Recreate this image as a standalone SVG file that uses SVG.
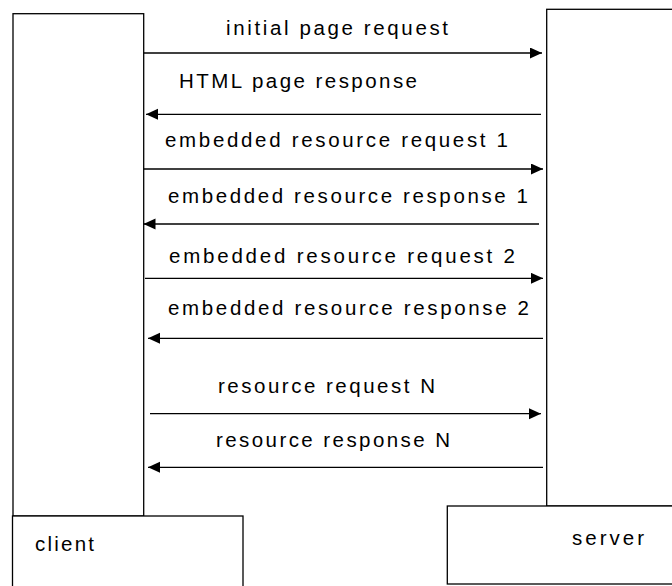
<svg xmlns="http://www.w3.org/2000/svg" width="672" height="586" viewBox="0 0 672 586">
<defs>
<style>
.box{fill:#fff;stroke:#000;stroke-width:1.3}
.msg{stroke:#000;stroke-width:1.3;fill:none;marker-end:url(#ah)}
text{font-family:"Liberation Sans",Arial,sans-serif;font-size:20.5px;fill:#000}
</style>
<marker id="ah" markerUnits="userSpaceOnUse" markerWidth="13" markerHeight="12" refX="12" refY="5.5" orient="auto">
<path d="M0,0 L12,5.5 L0,11 z" fill="#000"/>
</marker>
</defs>
<rect width="672" height="586" fill="#fff"/>
<g id="client">
<rect class="box" x="13" y="13.7" width="130.7" height="502.3"/>
<rect class="box" x="12.5" y="516" width="230.5" height="80"/>
<text x="35" y="551" textLength="59">client</text>
</g>
<g id="server">
<rect class="box" x="546.7" y="9.3" width="140" height="496.7"/>
<rect class="box" x="447.3" y="506" width="240" height="78"/>
<text x="572" y="545" textLength="72">server</text>
</g>
<g id="connectors">
<line class="msg" x1="143.7" y1="53" x2="542" y2="53"/>
<line class="msg" x1="541" y1="114.3" x2="146" y2="114.3"/>
<line class="msg" x1="143.7" y1="169" x2="543" y2="169"/>
<line class="msg" x1="539" y1="224" x2="143.5" y2="224"/>
<line class="msg" x1="145" y1="278.3" x2="543" y2="278.3"/>
<line class="msg" x1="543" y1="338.3" x2="148" y2="338.3"/>
<line class="msg" x1="150" y1="413.7" x2="541" y2="413.7"/>
<line class="msg" x1="543" y1="467.3" x2="148" y2="467.3"/>
<text x="226" y="35" textLength="222">initial page request</text>
<text x="179" y="88" textLength="238">HTML page response</text>
<text x="165" y="147" textLength="343">embedded resource request 1</text>
<text x="168" y="203" textLength="360">embedded resource response 1</text>
<text x="169" y="263" textLength="346">embedded resource request 2</text>
<text x="168" y="315" textLength="361">embedded resource response 2</text>
<text x="218" y="393" textLength="217">resource request N</text>
<text x="216" y="447" textLength="234">resource response N</text>
</g>
</svg>
